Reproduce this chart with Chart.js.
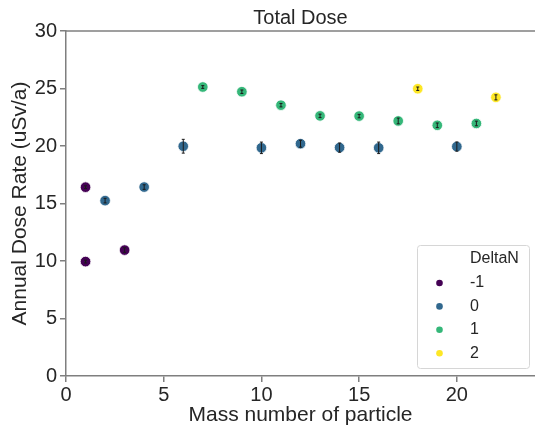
<!DOCTYPE html>
<html>
<head>
<meta charset="utf-8">
<script src="https://cdn.jsdelivr.net/npm/chart.js@4/dist/chart.umd.min.js"></script>
<style>
  html, body { margin: 0; padding: 0; background: #fff; }
  #wrap { width: 535px; height: 428px; }
</style>
</head>
<body>
<div id="wrap"><canvas id="c" width="535" height="428"></canvas></div>
<script>
// ---- data ----
const seriesLabels = ['-1', '0', '1', '2'];
const seriesColors = ['#440154', '#31688e', '#35b779', '#fde725'];

const massM1 = [1, 1, 3];
const doseM1 = [16.42, 9.95, 10.95];
const errM1  = [0.12, 0.12, 0.2];

const mass0 = [2, 4, 6, 10, 12, 14, 16, 20];
const dose0 = [15.25, 16.43, 19.98, 19.84, 20.2, 19.86, 19.84, 19.95];
const err0  = [0.2, 0.2, 0.6, 0.5, 0.3, 0.4, 0.5, 0.4];

const mass1 = [7, 9, 11, 13, 15, 17, 19, 21];
const dose1 = [25.13, 24.72, 23.55, 22.62, 22.6, 22.18, 21.8, 21.96];
const err1  = [0.12, 0.15, 0.15, 0.15, 0.15, 0.25, 0.2, 0.2];

const mass2 = [18, 22];
const dose2 = [24.98, 24.23];
const err2  = [0.15, 0.22];

const xTicks = [0, 5, 10, 15, 20];
const yTicks = [0, 5, 10, 15, 20, 25, 30];

const titleText = 'Total Dose';
const xTitle = 'Mass number of particle';
const yTitle = 'Annual Dose Rate (uSv/a)';
const legendTitle = 'DeltaN';

// ---- build datasets ----
const masses = [massM1, mass0, mass1, mass2];
const doses = [doseM1, dose0, dose1, dose2];
const errs = [errM1, err0, err1, err2];

const datasets = seriesLabels.map((lab, i) => ({
  label: lab,
  data: masses[i].map((m, j) => ({ x: m, y: doses[i][j], e: errs[i][j] })),
  backgroundColor: seriesColors[i],
  borderColor: '#ffffff',
  borderWidth: 0.8,
  pointRadius: 5.3,
  pointHoverRadius: 5.3
}));

const FONT = '"Liberation Sans", Arial, sans-serif';
const textColor = '#262626';
const spineColor = '#7f7f7f';

const errorBarPlugin = {
  id: 'errorBars',
  afterDatasetsDraw(chart) {
    const ctx = chart.ctx;
    const xs = chart.scales.x, ys = chart.scales.y;
    ctx.save();
    ctx.strokeStyle = '#1a1a1a';
    ctx.lineWidth = 1;
    chart.data.datasets.forEach(ds => {
      ds.data.forEach(p => {
        const px = xs.getPixelForValue(p.x);
        const y1 = ys.getPixelForValue(p.y - p.e);
        const y2 = ys.getPixelForValue(p.y + p.e);
        ctx.beginPath();
        ctx.moveTo(px, y1); ctx.lineTo(px, y2);
        ctx.moveTo(px - 1.5, y1); ctx.lineTo(px + 1.5, y1);
        ctx.moveTo(px - 1.5, y2); ctx.lineTo(px + 1.5, y2);
        ctx.stroke();
      });
    });
    ctx.restore();
  }
};

const topSpineTitlePlugin = {
  id: 'topSpineTitle',
  afterDraw(chart) {
    const ctx = chart.ctx, a = chart.chartArea;
    ctx.save();
    ctx.strokeStyle = spineColor;
    ctx.lineWidth = 1.5;
    ctx.beginPath();
    ctx.moveTo(a.left, a.top);
    ctx.lineTo(a.right, a.top);
    ctx.stroke();
    ctx.font = '20px ' + FONT;
    ctx.fillStyle = textColor;
    ctx.textAlign = 'center';
    ctx.textBaseline = 'alphabetic';
    ctx.fillText(titleText, (a.left + a.right) / 2, 23.5);
    ctx.restore();
  }
};

const legendPlugin = {
  id: 'boxLegend',
  afterDraw(chart) {
    const ctx = chart.ctx;
    const bx = 417, by = 245, bw = 112, bh = 123;
    ctx.save();
    ctx.fillStyle = 'rgba(255,255,255,0.85)';
    ctx.strokeStyle = '#d6d6d6';
    ctx.lineWidth = 1;
    ctx.beginPath();
    if (ctx.roundRect) ctx.roundRect(bx + 0.5, by + 0.5, bw, bh, 3);
    else ctx.rect(bx + 0.5, by + 0.5, bw, bh);
    ctx.fill();
    ctx.stroke();
    ctx.font = '16px ' + FONT;
    ctx.fillStyle = textColor;
    ctx.textBaseline = 'middle';
    ctx.textAlign = 'left';
    ctx.fillText(legendTitle, 470, 259);
    chart.data.datasets.forEach((ds, i) => {
      const cy = 283 + i * 23.4;
      ctx.beginPath();
      ctx.fillStyle = ds.backgroundColor;
      ctx.arc(439.5, cy, 3.3, 0, Math.PI * 2);
      ctx.fill();
      ctx.fillStyle = textColor;
      ctx.fillText(ds.label, 470, cy);
    });
    ctx.restore();
  }
};

new Chart(document.getElementById('c'), {
  type: 'scatter',
  data: { datasets },
  plugins: [errorBarPlugin, topSpineTitlePlugin, legendPlugin],
  options: {
    responsive: false,
    animation: false,
    layout: { autoPadding: false, padding: { left: 0, right: 0, top: 31, bottom: 0 } },
    plugins: {
      legend: { display: false },
      tooltip: { enabled: false },
      title: { display: false }
    },
    scales: {
      x: {
        type: 'linear',
        min: 0, max: 24,
        afterBuildTicks: s => { s.ticks = xTicks.map(v => ({ value: v })); },
        afterFit: s => { s.height = 52; s.paddingRight = 0; s.paddingLeft = 0; },
        ticks: { color: textColor, font: { family: FONT, size: 20 }, padding: 1, maxRotation: 0, includeBounds: false },
        grid: { display: true, drawOnChartArea: false, drawTicks: true, tickLength: 6, color: spineColor, lineWidth: 1.5 },
        border: { display: true, color: spineColor, width: 1.5 },
        title: { display: true, text: xTitle, color: textColor, font: { family: FONT, size: 21 }, padding: { top: 0, bottom: 0 } }
      },
      y: {
        type: 'linear',
        min: 0, max: 30,
        afterBuildTicks: s => { s.ticks = yTicks.map(v => ({ value: v })); },
        afterFit: s => { s.width = 66; s.paddingTop = 0; s.paddingBottom = 0; },
        ticks: { color: textColor, font: { family: FONT, size: 20 }, padding: 3, includeBounds: false },
        grid: { display: true, drawOnChartArea: false, drawTicks: true, tickLength: 6, color: spineColor, lineWidth: 1.5 },
        border: { display: true, color: spineColor, width: 1.5 },
        title: { display: true, text: yTitle, color: textColor, font: { family: FONT, size: 21 }, padding: { top: 8, bottom: 0 } }
      }
    }
  }
});
</script>
</body>
</html>
